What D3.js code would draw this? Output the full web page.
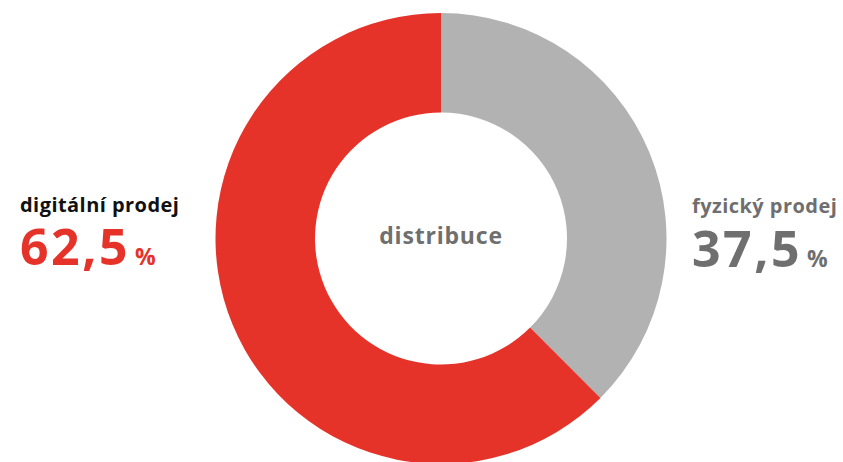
<!DOCTYPE html>
<meta charset="utf-8">
<script src="https://d3js.org/d3.v7.min.js"></script>
<style>
  body { margin: 0; background: #fff; }
  text { font-family: "Open Sans", sans-serif; font-weight: 700; }
</style>
<div id="chart"></div>
<script>
  // data
  const labels = ["fyzický prodej", "digitální prodej"];
  const values = [37.5, 62.5];
  const colors = ["#b2b2b2", "#e5332a"];
  const centerLabel = "distribuce";

  const width = 843, height = 462;
  const cx = 441, cy = 238.5;
  const outerR = 225.5, innerR = 126;

  const svg = d3.select("#chart")
    .append("svg")
    .attr("width", width)
    .attr("height", height);

  const g = svg.append("g")
    .attr("transform", `translate(${cx}, ${cy})`);

  const pie = d3.pie().sort(null).value(d => d);
  const arc = d3.arc().innerRadius(innerR).outerRadius(outerR);

  g.selectAll("path")
    .data(pie(values))
    .join("path")
    .attr("d", arc)
    .attr("fill", (d, i) => colors[i]);

  // center label
  g.append("text")
    .attr("text-anchor", "middle")
    .attr("y", 5)
    .attr("font-size", 23)
    .attr("letter-spacing", 0.8)
    .attr("fill", "#6f6f6f")
    .text(centerLabel);

  const fmt = v => String(v).replace(".", ",");

  // left label (digital)
  const left = svg.append("g").attr("transform", "translate(20, 0)");
  left.append("text")
    .attr("y", 212)
    .attr("font-size", 20)
    .attr("letter-spacing", 0.45)
    .attr("fill", "#111")
    .text(labels[1]);
  const lv = left.append("text").attr("y", 265).attr("fill", colors[1]);
  lv.append("tspan").attr("font-size", 50).attr("letter-spacing", 2.5).text(fmt(values[1]));
  lv.append("tspan").attr("font-size", 23).attr("dx", 5).text("%");

  // right label (physical)
  const right = svg.append("g").attr("transform", "translate(692, 0)");
  right.append("text")
    .attr("y", 213)
    .attr("font-size", 20)
    .attr("letter-spacing", 0.45)
    .attr("fill", "#6f6f6f")
    .text(labels[0]);
  const rv = right.append("text").attr("y", 267).attr("fill", "#6f6f6f");
  rv.append("tspan").attr("font-size", 50).attr("letter-spacing", 2.5).text(fmt(values[0]));
  rv.append("tspan").attr("font-size", 23).attr("dx", 5).text("%");
</script>
